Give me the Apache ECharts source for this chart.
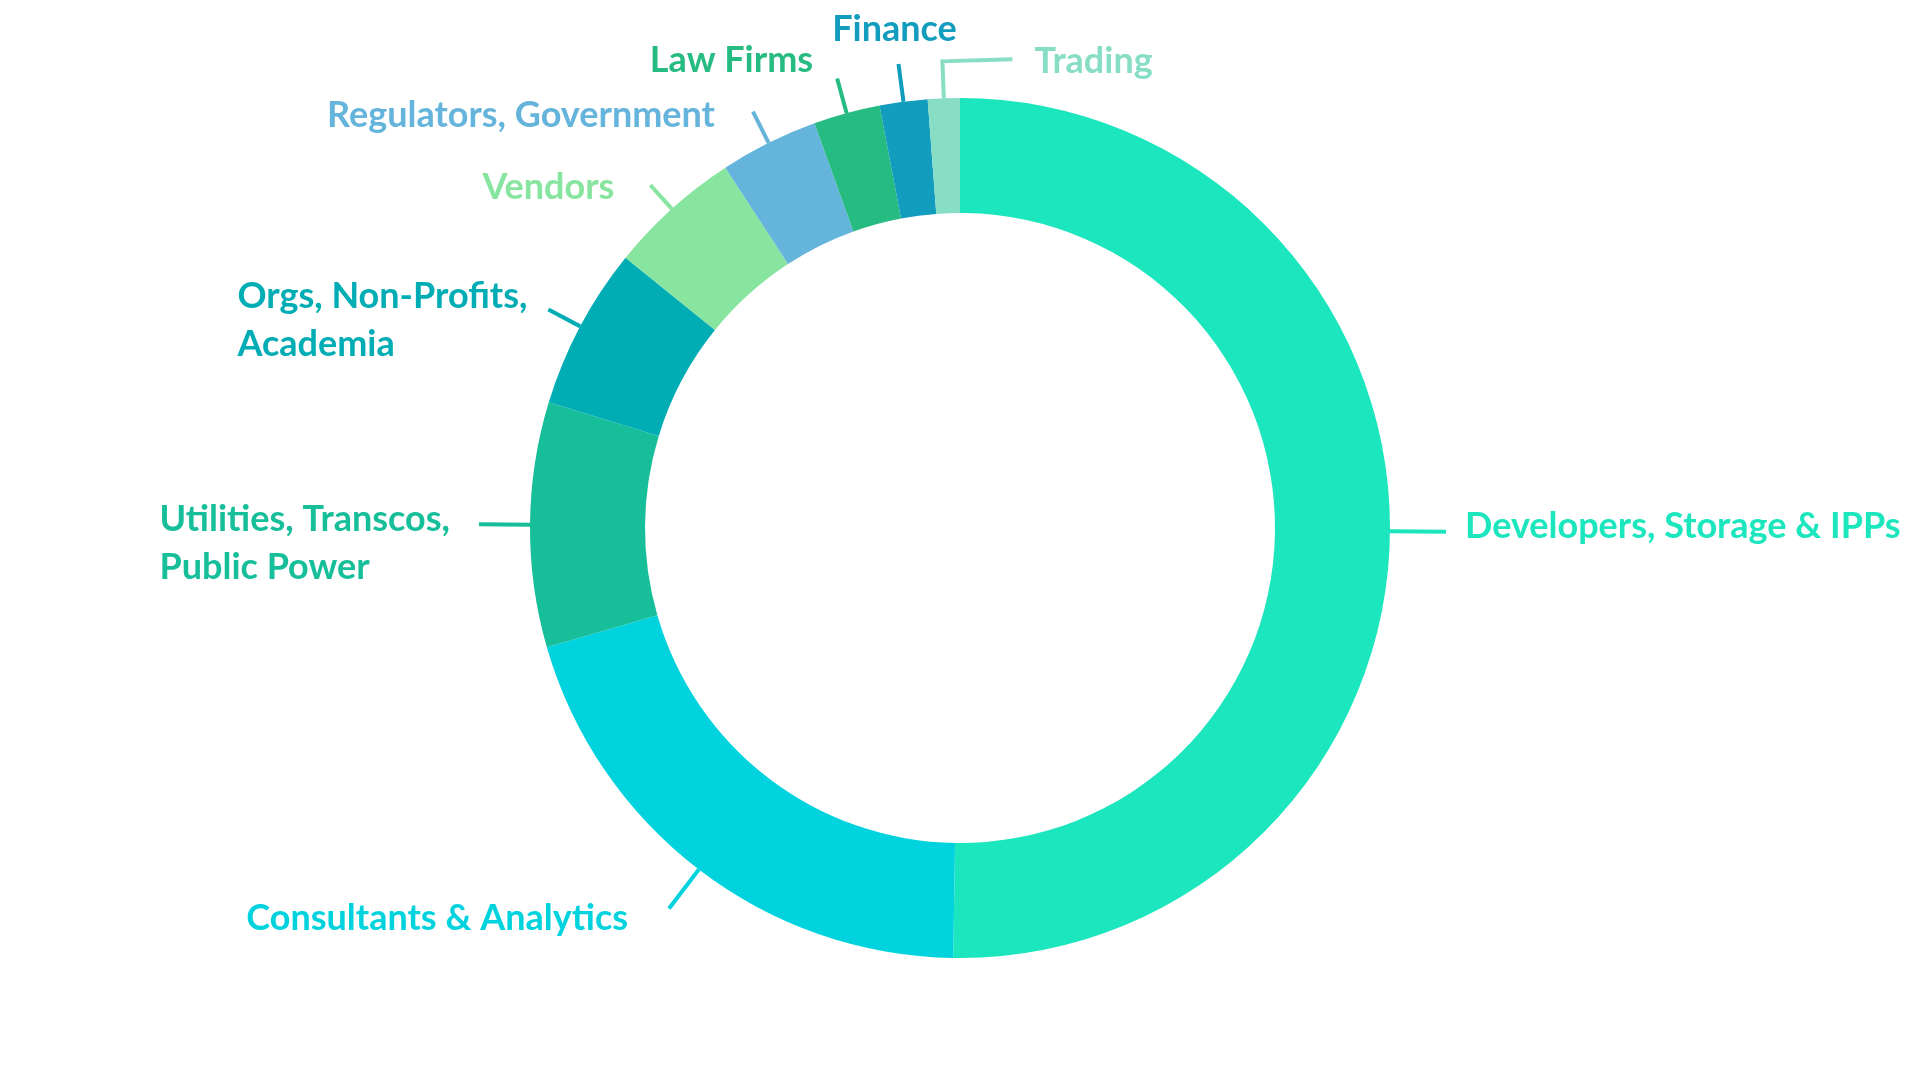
<!DOCTYPE html>
<html>
<head>
<meta charset="utf-8">
<title>Attendees by sector</title>
<script src="https://cdn.jsdelivr.net/npm/echarts@6/dist/echarts.min.js"></script>
<style>
    html, body { margin: 0; padding: 0; background: #fff; }
    #myPie { width: 1920px; height: 1080px; }
</style>
</head>
<body>
<div id="myPie"></div>
<script>
// 数据
var sectors = ['Developers, Storage & IPPs', 'Consultants & Analytics', 'Utilities, Transcos,\nPublic Power',
    'Orgs, Non-Profits,\nAcademia', 'Vendors', 'Regulators, Government', 'Law Firms', 'Finance', 'Trading'];
var shares = [50.3, 20.3, 9.2, 6.1, 5.0, 3.7, 2.5, 1.8, 1.2];
var colors = ['#1be6bd', '#00d3de', '#16be9a', '#00adb4', '#88e5a0', '#65b4dc', '#26bb80', '#129cbd', '#88dec4'];

// 标签线长度 & 标签相对线端的位置
var lineLen = [56, 49, 51, 36, 32, 35, 36, 38, 37];
var labelPlace = [
    { align: 'left', dx: 19, dy: -5 },
    { align: 'right', dx: -41, dy: 10 },
    { align: 'right', dx: -29, dy: 19, block: true },
    { align: 'right', dx: -21, dy: 11, block: true },
    { align: 'right', dx: -36, dy: 2 },
    { align: 'right', dx: -38, dy: 4 },
    { align: 'right', dx: -24, dy: -18 },
    { align: 'center', dx: -4, dy: -35 },
    { align: 'left', dx: 92, dy: 0, tail: 70 }
];

var myPie;
window.onload = function () {
    myPie = echarts.init(document.getElementById('myPie'));
    drawPie();
};

function drawPie() {
    var data = [];
    for (var i = 0; i < sectors.length; i++) {
        data.push({
            name: sectors[i],
            value: shares[i],
            itemStyle: { color: colors[i] },
            label: { color: colors[i] },
            labelLine: { length: lineLen[i], lineStyle: { color: colors[i] } }
        });
    }

    var option = {
        animation: false,
        series: [{
            type: 'pie',
            center: [960, 528],
            radius: [315, 430],
            startAngle: 90,
            avoidLabelOverlap: false,
            itemStyle: { borderWidth: 0 },
            label: {
                show: true,
                position: 'outside',
                fontFamily: 'Lato',
                fontWeight: 'bold',
                fontSize: 36,
                lineHeight: 48
            },
            labelLine: {
                show: true,
                length2: 0,
                lineStyle: { width: 4 }
            },
            labelLayout: function (params) {
                var p = labelPlace[params.dataIndex];
                var pts = params.labelLinePoints;
                if (!pts) return {};
                var end = pts[1];
                var linePts = [pts[0], pts[1], pts[2]];
                var x = end[0] + p.dx;
                var align = p.align;
                if (p.tail) {
                    linePts = [pts[0], pts[1], [end[0] + p.tail, end[1] - 2]];
                }
                // 多行标签：整体靠右，行内左对齐
                if (p.block) {
                    x = x - params.labelRect.width;
                    align = 'left';
                }
                return {
                    x: x,
                    y: end[1] + p.dy,
                    align: align,
                    verticalAlign: 'middle',
                    labelLinePoints: linePts
                };
            },
            data: data
        }]
    };

    myPie.setOption(option);
}
</script>
</body>
</html>
